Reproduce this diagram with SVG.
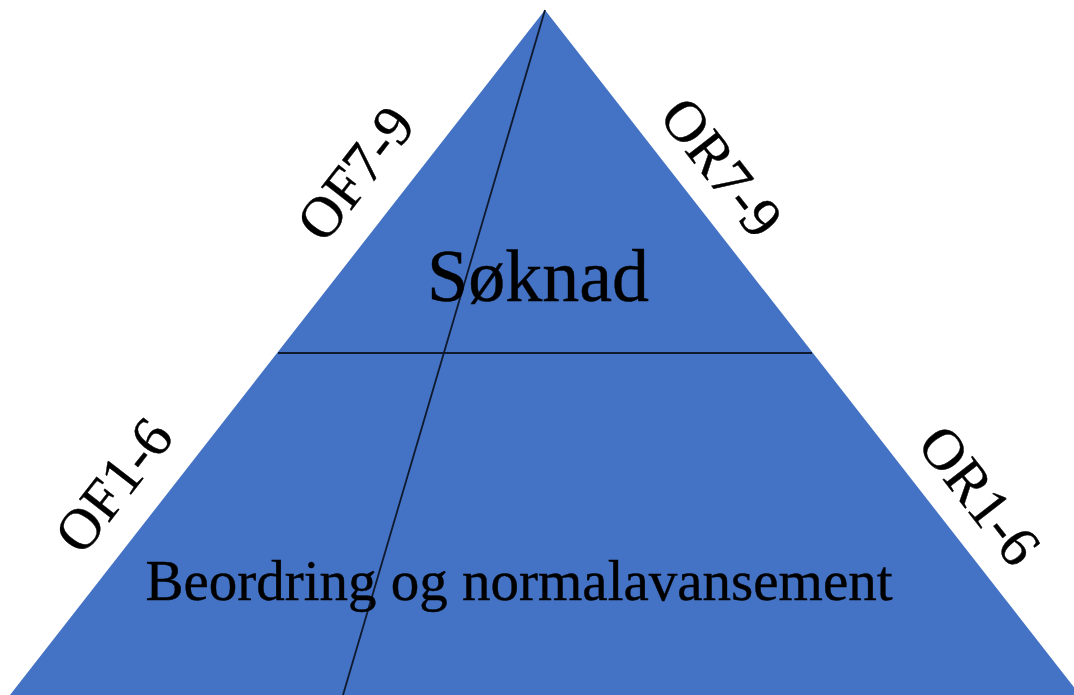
<svg xmlns="http://www.w3.org/2000/svg" width="1074" height="695" viewBox="0 0 1074 695">
  <style>
    .shape { fill: #4472C4; }
    .rule { stroke: #0f1a2e; fill: none; }
    .lbl { font-family: "Liberation Serif", "Times New Roman", serif; fill: #000; text-anchor: middle; stroke: #000; stroke-width: 0.4; }
  </style>
  <rect width="1074" height="695" fill="#ffffff"/>
  <g id="pyramid">
    <polygon class="shape" points="545,10 10,695 1080,695"/>
  </g>
  <g id="connectors">
    <line class="rule" x1="278" y1="353" x2="812" y2="353" stroke-width="2.2"/>
    <line class="rule" x1="545" y1="10" x2="343" y2="695" stroke-width="1.8"/>
  </g>
  <g id="soknad">
    <text class="lbl" x="538" y="301" font-size="74">Søknad</text>
  </g>
  <g id="beordring">
    <text class="lbl" x="519" y="600" font-size="57">Beordring og normalavansement</text>
  </g>
  <g id="of7-9">
    <text class="lbl" transform="translate(355,173) rotate(-52)" y="20" font-size="58">OF7-9</text>
  </g>
  <g id="or7-9">
    <text class="lbl" transform="translate(722,167) rotate(52)" y="20" font-size="58">OR7-9</text>
  </g>
  <g id="of1-6">
    <text class="lbl" transform="translate(113,485) rotate(-52)" y="20" font-size="58">OF1-6</text>
  </g>
  <g id="or1-6">
    <text class="lbl" transform="translate(980,495) rotate(52)" y="20" font-size="58">OR1-6</text>
  </g>
</svg>
